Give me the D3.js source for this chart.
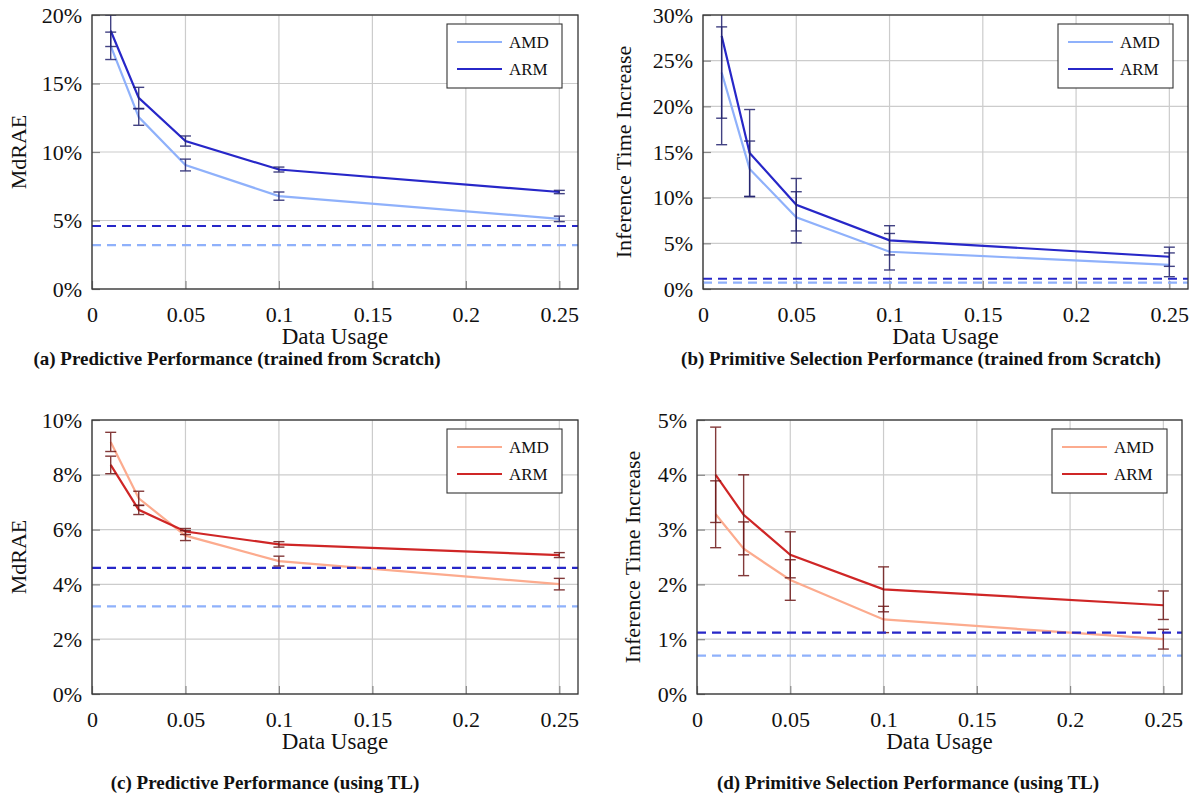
<!DOCTYPE html>
<html>
<head>
<meta charset="utf-8">
<script src="https://cdn.jsdelivr.net/npm/d3@7"></script>
<style>
  body { margin: 0; background: #fff; }
  svg text { font-family: 'Liberation Serif', 'Times New Roman', serif; fill: #111; }
</style>
</head>
<body>
<svg id="chart" width="1196" height="807"></svg>
<script>
'use strict';

const serif = "'Liberation Serif', 'Times New Roman', serif";

// data usage fractions (x axis)
const usage = [0.01, 0.025, 0.05, 0.1, 0.25];
const xTicks = [0, 0.05, 0.1, 0.15, 0.2, 0.25];
const seriesNames = ["AMD", "ARM"];

// (a) predictive performance, trained from scratch (MdRAE %)
const predScratchAmd = [17.75, 12.55, 9.05, 6.78, 5.12];
const predScratchAmdErr = [1.0, 0.6, 0.43, 0.3, 0.2];
const predScratchArm = [18.85, 13.95, 10.8, 8.72, 7.08];
const predScratchArmErr = [1.15, 0.77, 0.37, 0.18, 0.12];

// (b) primitive selection, trained from scratch (inference time increase %)
const selScratchAmd = [23.7, 13.15, 7.85, 4.08, 2.65];
const selScratchAmdErr = [5.0, 3.05, 2.8, 2.0, 1.3];
const selScratchArm = [27.7, 14.9, 9.23, 5.33, 3.53];
const selScratchArmErr = [11.9, 4.75, 2.87, 1.6, 1.05];

// (c) predictive performance, using TL
const predTlAmd = [9.2, 7.14, 5.78, 4.85, 4.01];
const predTlAmdErr = [0.35, 0.26, 0.18, 0.18, 0.21];
const predTlArm = [8.36, 6.72, 5.93, 5.46, 5.07];
const predTlArmErr = [0.32, 0.17, 0.11, 0.1, 0.09];

// (d) primitive selection, using TL
const selTlAmd = [3.28, 2.65, 2.08, 1.36, 1.0];
const selTlAmdErr = [0.61, 0.49, 0.37, 0.24, 0.18];
const selTlArm = [4.0, 3.27, 2.54, 1.91, 1.62];
const selTlArmErr = [0.87, 0.73, 0.42, 0.41, 0.26];

// reference (dashed) levels: [AMD, ARM]
const predBaseline = [3.2, 4.6];
const selBaseline = [0.7, 1.12];

const yTicksPred = [0, 5, 10, 15, 20];
const yTicksSel = [0, 5, 10, 15, 20, 25, 30];
const yTicksPredTl = [0, 2, 4, 6, 8, 10];
const yTicksSelTl = [0, 1, 2, 3, 4, 5];

const captions = [
  "(a) Predictive Performance (trained from Scratch)",
  "(b) Primitive Selection Performance (trained from Scratch)",
  "(c) Predictive Performance (using TL)",
  "(d) Primitive Selection Performance (using TL)"
];

const blue = { light: "#8fb1fb", dark: "#2727c8", err: "#22226e" };
const red = { light: "#fcab8e", dark: "#cf2626", err: "#6e1818" };
const baseColors = ["#8fb1fb", "#2727c8"];

const svg = d3.select("#chart");

function drawPanel(p, idx) {
  const g = svg.append("g").attr("transform", `translate(${p.left},${p.top})`);
  const w = p.width, h = p.height;

  const x = d3.scaleLinear().domain([0, 0.26]).range([0, w]);
  const y = d3.scaleLinear().domain([0, p.yMax]).range([h, 0]);

  g.append("clipPath").attr("id", "clip" + idx)
    .append("rect").attr("width", w).attr("height", h);

  // grid
  g.append("g").selectAll("line").data(xTicks).enter().append("line")
    .attr("x1", d => x(d)).attr("x2", d => x(d)).attr("y1", 0).attr("y2", h)
    .attr("stroke", "#cccccc").attr("stroke-width", 1.2);
  g.append("g").selectAll("line").data(p.yTicks).enter().append("line")
    .attr("x1", 0).attr("x2", w).attr("y1", d => y(d)).attr("y2", d => y(d))
    .attr("stroke", "#cccccc").attr("stroke-width", 1.2);

  // axes with inward ticks
  const xAxis = g.append("g").attr("transform", `translate(0,${h})`)
    .call(d3.axisBottom(x).tickValues(xTicks).tickSize(-8).tickPadding(14)
      .tickFormat(d => d === 0 ? "0" : String(d)));
  const yAxis = g.append("g")
    .call(d3.axisLeft(y).tickValues(p.yTicks).tickSize(-8).tickPadding(10)
      .tickFormat(d => d + "%"));
  [xAxis, yAxis].forEach(a => {
    a.attr("font-family", serif);
    a.select(".domain").remove();
    a.selectAll(".tick line").attr("stroke", "#888").attr("stroke-width", 1.2);
    a.selectAll(".tick text").attr("font-size", 22)
      .style("font-family", serif).attr("fill", "#111");
  });
  xAxis.selectAll(".tick text").attr("dy", "0.85em");

  const plot = g.append("g").attr("clip-path", `url(#clip${idx})`);
  const line = d3.line().x((d, i) => x(usage[i])).y(d => y(d));

  p.series.forEach(s => {
    plot.append("path").datum(s.values)
      .attr("d", line).attr("fill", "none")
      .attr("stroke", s.color).attr("stroke-width", 2.2);
  });

  // error bars
  p.series.forEach(s => {
    const eb = plot.append("g").attr("stroke", p.errColor)
      .attr("stroke-width", 1.4).attr("opacity", 0.85);
    s.values.forEach((v, i) => {
      const cx = x(usage[i]);
      const hi = y(v + s.err[i]), lo = y(v - s.err[i]);
      eb.append("line").attr("x1", cx).attr("x2", cx).attr("y1", hi).attr("y2", lo);
      eb.append("line").attr("x1", cx - 5.5).attr("x2", cx + 5.5).attr("y1", hi).attr("y2", hi);
      eb.append("line").attr("x1", cx - 5.5).attr("x2", cx + 5.5).attr("y1", lo).attr("y2", lo);
    });
  });

  // dashed reference lines
  p.baseline.forEach((b, i) => {
    plot.append("line").attr("x1", 0).attr("x2", w)
      .attr("y1", y(b)).attr("y2", y(b))
      .attr("stroke", baseColors[i]).attr("stroke-width", 2.2)
      .attr("stroke-dasharray", "9,6");
  });

  // frame
  g.append("rect").attr("width", w).attr("height", h)
    .attr("fill", "none").attr("stroke", "#333").attr("stroke-width", 1.3);

  // legend
  const lg = g.append("g").attr("transform", `translate(${p.legendX},9)`);
  lg.append("rect").attr("width", 115).attr("height", 64)
    .attr("fill", "#fff").attr("stroke", "#333").attr("stroke-width", 1.1);
  p.series.forEach((s, i) => {
    const ly = 18 + i * 27;
    lg.append("line").attr("x1", 10).attr("x2", 55).attr("y1", ly).attr("y2", ly)
      .attr("stroke", s.color).attr("stroke-width", 2.2);
    lg.append("text").attr("x", 62).attr("y", ly + 6).attr("font-size", 17)
      .style("font-family", serif).text(seriesNames[i]);
  });

  // axis labels
  g.append("text").attr("x", w / 2).attr("y", h + 55)
    .attr("text-anchor", "middle").attr("font-size", 23)
    .style("font-family", serif).text("Data Usage");
  g.append("text")
    .attr("transform", `translate(${p.yLabelX},${h / 2}) rotate(-90)`)
    .attr("text-anchor", "middle").attr("font-size", 22)
    .style("font-family", serif).text(p.yLabel);

  // caption
  svg.append("text").attr("x", p.capX).attr("y", p.capY)
    .attr("text-anchor", "middle").attr("font-size", 19).attr("font-weight", "bold")
    .style("font-family", serif).text(captions[idx]);
}

const panels = [
  { left: 92, top: 15, width: 486, height: 274, yMax: 20, yTicks: yTicksPred,
    yLabel: "MdRAE", yLabelX: -66, legendX: 355, capX: 237, capY: 365,
    errColor: blue.err, baseline: predBaseline,
    series: [
      { values: predScratchAmd, err: predScratchAmdErr, color: blue.light },
      { values: predScratchArm, err: predScratchArmErr, color: blue.dark }
    ] },
  { left: 703, top: 15, width: 485, height: 274, yMax: 30, yTicks: yTicksSel,
    yLabel: "Inference Time Increase", yLabelX: -72, legendX: 355, capX: 921, capY: 365,
    errColor: blue.err, baseline: selBaseline,
    series: [
      { values: selScratchAmd, err: selScratchAmdErr, color: blue.light },
      { values: selScratchArm, err: selScratchArmErr, color: blue.dark }
    ] },
  { left: 92, top: 420, width: 486, height: 274, yMax: 10, yTicks: yTicksPredTl,
    yLabel: "MdRAE", yLabelX: -66, legendX: 355, capX: 265, capY: 789,
    errColor: red.err, baseline: predBaseline,
    series: [
      { values: predTlAmd, err: predTlAmdErr, color: red.light },
      { values: predTlArm, err: predTlArmErr, color: red.dark }
    ] },
  { left: 697, top: 420, width: 485, height: 274, yMax: 5, yTicks: yTicksSelTl,
    yLabel: "Inference Time Increase", yLabelX: -57, legendX: 355, capX: 908, capY: 789,
    errColor: red.err, baseline: selBaseline,
    series: [
      { values: selTlAmd, err: selTlAmdErr, color: red.light },
      { values: selTlArm, err: selTlArmErr, color: red.dark }
    ] }
];

panels.forEach(drawPanel);
</script>
</body>
</html>
